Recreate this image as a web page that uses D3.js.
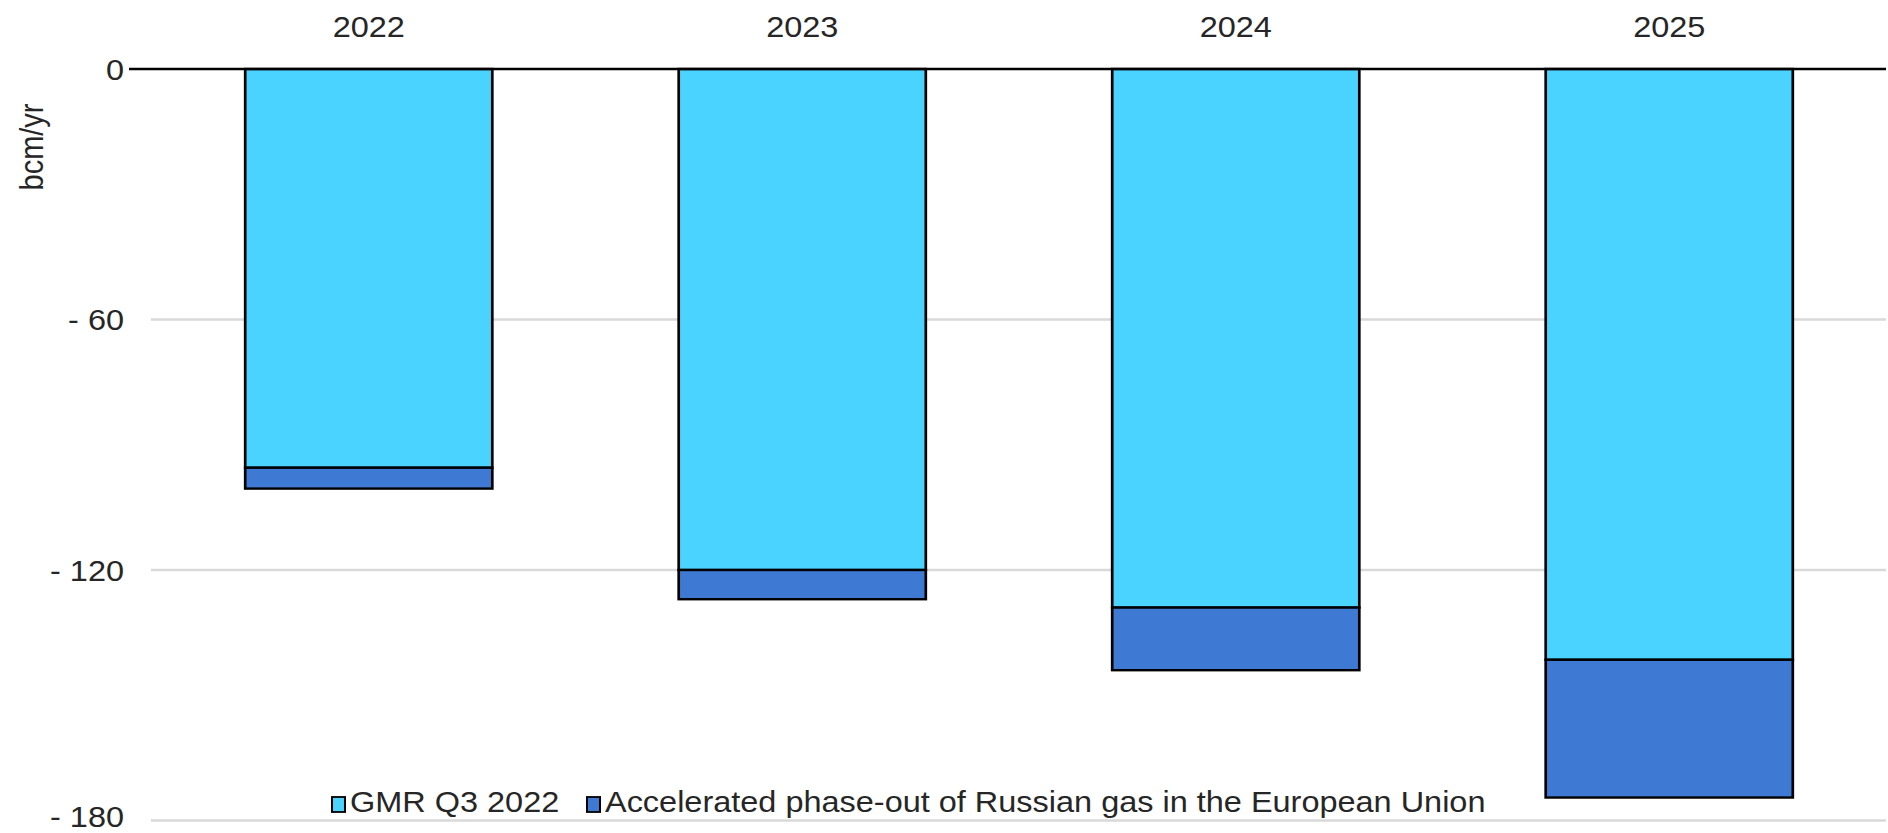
<!DOCTYPE html>
<html>
<head>
<meta charset="utf-8">
<script src="https://cdn.jsdelivr.net/npm/d3@7"></script>
<style>
  html, body { margin: 0; padding: 0; background: #ffffff; }
  svg { display: block; }
  text { font-family: "Liberation Sans", Arial, sans-serif; fill: #262626; }
</style>
</head>
<body>
<script>
// ---- data ----
const categories = ["2022", "2023", "2024", "2025"];
const seriesNames = ["GMR Q3 2022", "Accelerated phase-out of Russian gas in the European Union"];
const gmrValues = [-95.5, -120, -129, -141.5];
const acceleratedValues = [-5, -7, -15, -33];
const yTicks = [0, -60, -120, -180];
const yAxisTitle = "bcm/yr";

// ---- layout ----
const W = 1888, H = 833;
const SX = 1.12; // horizontal text stretch seen in the reference
const colors = ["#4AD3FF", "#3E7AD3"];

const svg = d3.select("body").append("svg")
  .attr("width", W).attr("height", H);
const g = svg.append("g").attr("transform", `scale(${SX},1)`);

const x = d3.scaleBand()
  .domain(categories)
  .range([152 / SX, 1886 / SX])
  .paddingInner(0.43)
  .paddingOuter(0.215);

const y = d3.scaleLinear().domain([-180, 0]).range([820.5, 69]);

// gridlines
g.append("g").selectAll("line")
  .data(yTicks.filter(d => d !== 0))
  .join("line")
  .attr("x1", 151 / SX).attr("x2", 1886 / SX)
  .attr("y1", d => y(d)).attr("y2", d => y(d))
  .attr("stroke", "#d9d9d9").attr("stroke-width", 2.5);

// y axis labels via d3 axis
const yAxis = d3.axisLeft(y)
  .tickValues(yTicks)
  .tickSize(0)
  .tickPadding(0)
  .tickFormat(d => d === 0 ? "0" : "- " + Math.abs(d));
const yAxisG = g.append("g")
  .attr("transform", `translate(${124 / SX},0)`)
  .call(yAxis);
yAxisG.select(".domain").remove();
yAxisG.selectAll("text")
  .attr("font-family", "Liberation Sans, Arial, sans-serif")
  .attr("font-size", 29)
  .attr("fill", "#262626")
  .attr("dy", d => d === -180 ? "0.19em" : "0.36em");

// stacked data
const stackData = categories.map((c, i) => ({
  cat: c,
  segs: [
    { s: 0, y0: 0, y1: gmrValues[i] },
    { s: 1, y0: gmrValues[i], y1: gmrValues[i] + acceleratedValues[i] }
  ]
}));

const barG = g.append("g");
stackData.forEach(d => {
  barG.selectAll(null)
    .data(d.segs)
    .join("rect")
    .attr("x", x(d.cat))
    .attr("width", x.bandwidth())
    .attr("y", s => y(s.y0))
    .attr("height", s => y(s.y1) - y(s.y0))
    .attr("fill", s => colors[s.s])
    .attr("stroke", "#000")
    .attr("stroke-width", 2.4);
});

// zero axis line
g.append("line")
  .attr("x1", 129 / SX).attr("x2", 1886 / SX)
  .attr("y1", y(0)).attr("y2", y(0))
  .attr("stroke", "#000").attr("stroke-width", 2.5);

// category labels (top)
const xAxis = d3.axisTop(x).tickSize(0).tickPadding(0);
const xAxisG = g.append("g").attr("transform", "translate(0,37)").call(xAxis);
xAxisG.select(".domain").remove();
xAxisG.selectAll("text")
  .attr("font-family", "Liberation Sans, Arial, sans-serif")
  .attr("font-size", 29)
  .attr("fill", "#262626")
  .attr("dy", 0);

// y axis title
g.append("text")
  .attr("transform", `translate(${43 / SX},147) rotate(-90)`)
  .attr("text-anchor", "middle")
  .attr("font-size", 29)
  .text(yAxisTitle);

// legend
const legendX = [332, 587];
const leg = g.append("g").selectAll("g")
  .data(seriesNames)
  .join("g")
  .attr("transform", (d, i) => `translate(${legendX[i] / SX},0)`);
leg.append("rect")
  .attr("x", 0).attr("y", 797)
  .attr("width", 13 / SX).attr("height", 15)
  .attr("fill", (d, i) => colors[i])
  .attr("stroke", "#000").attr("stroke-width", 1.8);
leg.append("text")
  .attr("x", 18 / SX).attr("y", 812.5)
  .attr("font-size", 29)
  .text(d => d);
</script>
</body>
</html>
